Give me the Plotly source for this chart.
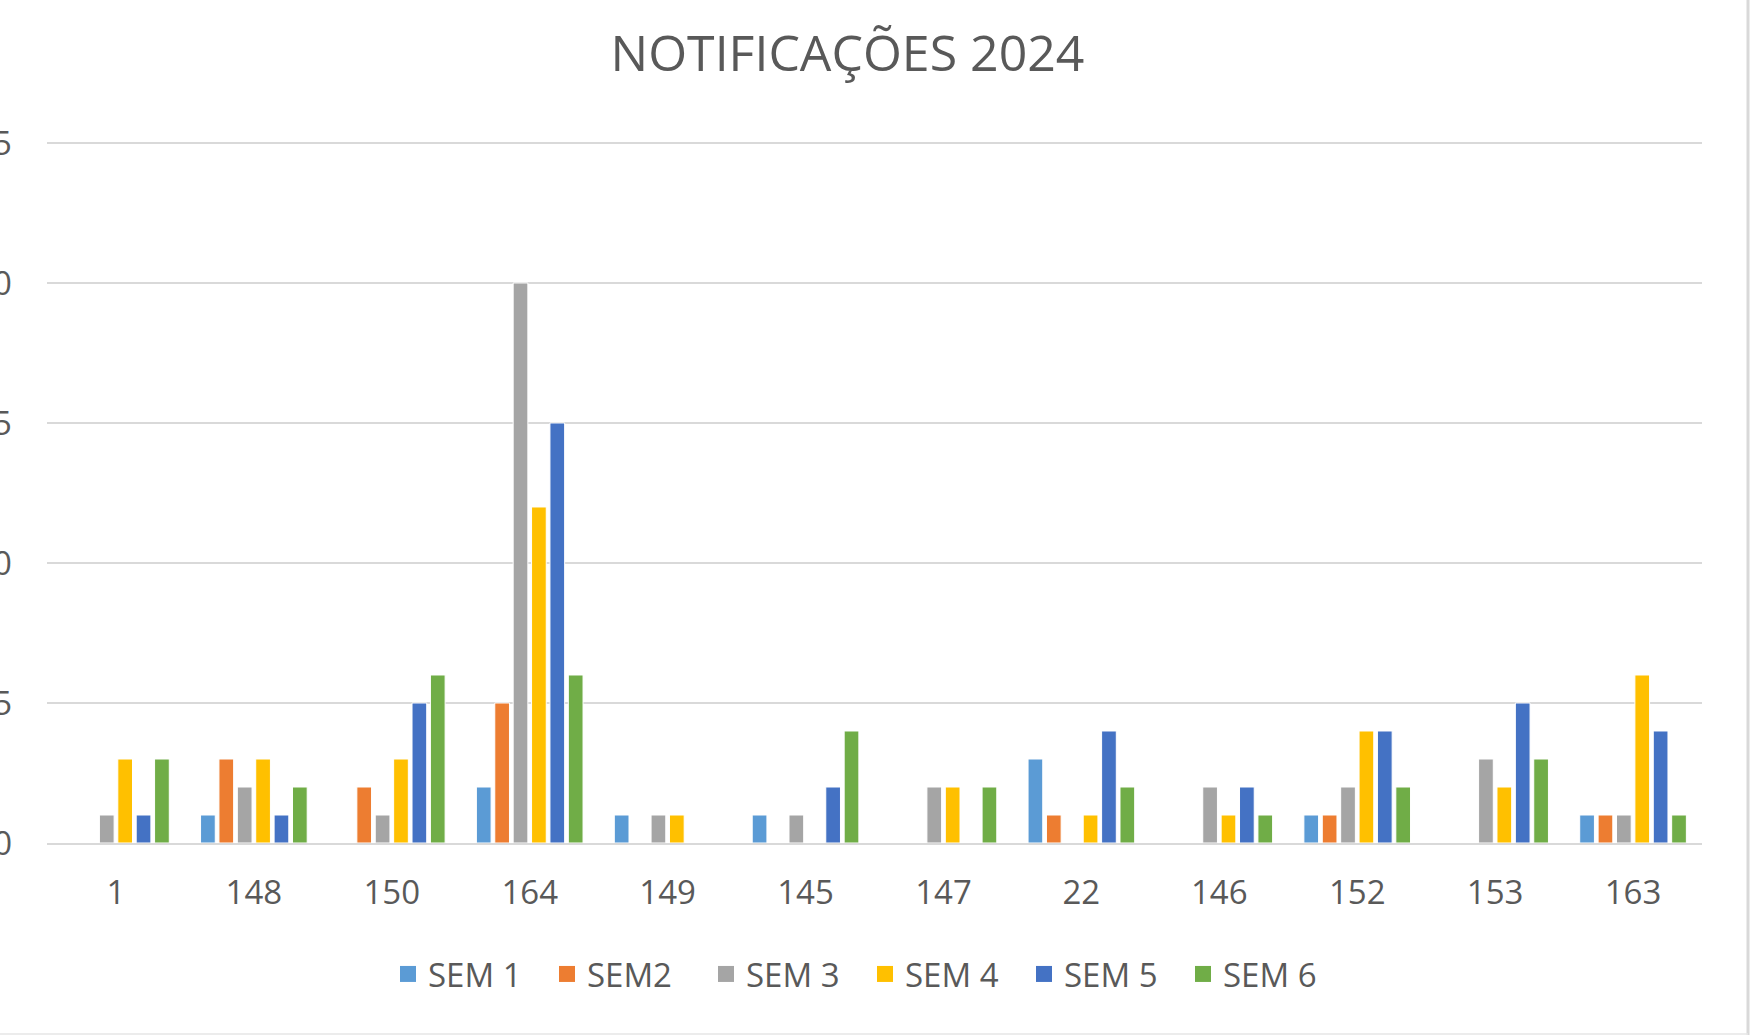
import plotly.graph_objects as go

categories = ["1", "148", "150", "164", "149", "145", "147", "22", "146", "152", "153", "163"]
series_names = ["SEM 1", "SEM2", "SEM 3", "SEM 4", "SEM 5", "SEM 6"]
sem1 = [0, 1, 0, 2, 1, 1, 0, 3, 0, 1, 0, 1]
sem2 = [0, 3, 2, 5, 0, 0, 0, 1, 0, 1, 0, 1]
sem3 = [1, 2, 1, 20, 1, 1, 2, 0, 2, 2, 3, 1]
sem4 = [3, 3, 3, 12, 1, 0, 2, 1, 1, 4, 2, 6]
sem5 = [1, 1, 5, 15, 0, 2, 0, 4, 2, 4, 5, 4]
sem6 = [3, 2, 6, 6, 0, 4, 2, 2, 1, 2, 3, 1]
colors = ["#5B9BD5", "#ED7D31", "#A5A5A5", "#FFC000", "#4472C4", "#70AD47"]
y_ticks = [0, 5, 10, 15, 20, 25]

all_series = [sem1, sem2, sem3, sem4, sem5, sem6]
text_color = "#595959"
font_family = "Open Sans"

fig = go.Figure()
for name, vals, col in zip(series_names, all_series, colors):
    fig.add_trace(go.Bar(
        x=categories, y=[v if v != 0 else None for v in vals], name=name,
        marker=dict(color=col, line=dict(color="white", width=1)),
        showlegend=False, legendgroup=name,
    ))
for name, col in zip(series_names, colors):
    fig.add_trace(go.Scatter(
        x=[None], y=[None], mode="markers", name=name, legendgroup=name,
        marker=dict(symbol="square", size=16, color=col),
    ))

W, H = 1752, 1035
L, R, T, B = 47, 50, 141, 192
pw, ph = W - L - R, H - T - B

fig.update_layout(
    width=W, height=H,
    paper_bgcolor="white", plot_bgcolor="white",
    margin=dict(l=L, r=R, t=T, b=B, autoexpand=False),
    barmode="group", bargap=0.2, bargroupgap=0.2,
    title=dict(text="NOTIFICAÇÕES 2024", x=847.5 / W, xanchor="center", y=1 - 53 / H, yanchor="middle",
               font=dict(family=font_family, size=50, color=text_color)),
    font=dict(family=font_family, color=text_color),
    legend=dict(orientation="h", x=(865 - L) / pw, xanchor="center", y=(T + ph - 974) / ph, yanchor="middle",
                font=dict(family=font_family, size=33, color=text_color),
                itemwidth=30, entrywidth=114, entrywidthmode="pixels", bgcolor="rgba(0,0,0,0)"),
    shapes=[
        dict(type="line", xref="paper", yref="paper", x0=(1748 - L) / pw, x1=(1748 - L) / pw,
             y0=1 + (T) / ph, y1=(T + ph - 1035) / ph, line=dict(color="#D9D9D9", width=3)),
        dict(type="line", xref="paper", yref="paper", x0=-L / pw, x1=(1748 - L) / pw,
             y0=(T + ph - 1034) / ph, y1=(T + ph - 1034) / ph, line=dict(color="#E6E6E6", width=1.5)),
    ],
)
fig.update_xaxes(
    type="category", showgrid=False, showline=True, linecolor="#D9D9D9", linewidth=2,
    ticks="", ticklabelstandoff=19,
    tickfont=dict(family=font_family, size=33, color=text_color), automargin=False,
)
fig.update_yaxes(
    range=[0, 25.07], tickvals=y_ticks, showgrid=True, gridcolor="#D9D9D9", gridwidth=2,
    zeroline=False, showline=False, ticks="", ticklabelstandoff=34,
    tickfont=dict(family=font_family, size=33, color=text_color), automargin=False,
)

fig.write_html("out.html", config={"displayModeBar": False},
               post_script="document.body.style.margin='0';document.body.style.overflow='hidden';")
